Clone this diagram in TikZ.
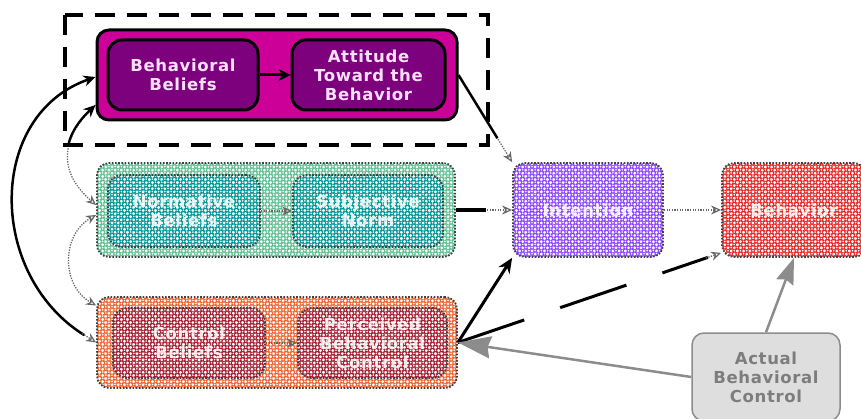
\documentclass[tikz,border=0pt]{standalone}
\usepackage{fontspec}
\newfontfamily\dfont[LetterSpace=4]{DejaVu Sans}
\usetikzlibrary{arrows.meta,patterns.meta}
\definecolor{magOut}{RGB}{204,0,153}
\definecolor{magIn}{RGB}{125,0,125}
\definecolor{pinkTxt}{RGB}{255,225,255}
\definecolor{grnOut}{RGB}{95,190,145}
\definecolor{grnIn}{RGB}{0,150,150}
\definecolor{orgOut}{RGB}{240,100,50}
\definecolor{orgIn}{RGB}{165,30,50}
\definecolor{intCol}{RGB}{140,70,255}
\definecolor{behCol}{RGB}{230,40,40}
\definecolor{abcFill}{RGB}{222,222,222}
\definecolor{abcLine}{RGB}{140,140,140}
\definecolor{abcTxt}{RGB}{125,125,125}
\begin{document}
\begin{tikzpicture}[x=1pt,y=-1pt,
  font=\dfont\bfseries\fontsize{16.5}{19}\selectfont,
  solidbox/.style={rounded corners=12pt, draw=black, line width=3pt, inner sep=0pt, align=center, text=pinkTxt},
  hbox/.style={rounded corners=12pt, draw=black!75, line width=1.8pt, dash pattern=on 1.6pt off 1.6pt,
    preaction={fill=white}, pattern={Hatch[angle=45,distance=4.4pt,line width=1.9pt]},
    pattern color=#1, text=white, text opacity=0.85, inner sep=0pt, align=center},
  blk/.style={draw=black, line width=3pt},
  htch/.style={draw=black!60, line width=1.3pt, dash pattern=on 1.3pt off 1.3pt},
  htipend/.style={-{Stealth[open,length=10pt,width=9pt,line width=1.2pt]}},
  gry/.style={draw=abcLine, line width=2.5pt}
]
\useasboundingbox (0,0) rectangle (861,419);

% boxes
\node[solidbox, fill=magOut, minimum width=360pt, minimum height=90pt] (mag) at (277,75) {};
\node[solidbox, fill=magIn, minimum width=150pt, minimum height=70pt, rounded corners=14pt] (bb) at (183,75) {Behavioral\\Beliefs};
\node[solidbox, fill=magIn, minimum width=153pt, minimum height=70pt, rounded corners=14pt] (att) at (368.5,75) {Attitude\\Toward the\\Behavior};

\node[hbox=grnOut, minimum width=358pt, minimum height=94pt] (grn) at (276,210) {};
\node[hbox=grnIn, minimum width=152pt, minimum height=72pt, rounded corners=14pt] (ns) at (184,211) {Normative\\Beliefs};
\node[hbox=grnIn, minimum width=150pt, minimum height=72pt, rounded corners=14pt] (sn) at (368,211) {Subjective\\Norm};

\node[hbox=orgOut, minimum width=360pt, minimum height=91pt] (org) at (277,342.5) {};
\node[hbox=orgIn, minimum width=152pt, minimum height=70pt, rounded corners=14pt] (cb) at (189,343) {Control\\Beliefs};
\node[hbox=orgIn, minimum width=149pt, minimum height=70pt, rounded corners=14pt] (pbc) at (372.5,343) {Perceived\\Behavioral\\Control};

\node[hbox=intCol, minimum width=150pt, minimum height=94pt] (int) at (588,210) {Intention};
\node[hbox=behCol, minimum width=144pt, minimum height=94pt] (beh) at (794,210) {Behavior};

\node[rounded corners=12pt, draw=abcLine, line width=1.5pt, fill=abcFill, text=abcTxt, align=center,
  minimum width=148pt, minimum height=88pt, inner sep=0pt] (abc) at (766,377) {Actual\\Behavioral\\Control};

% inner connectors
\draw[blk, -{Stealth[length=12pt,width=12pt]}] (bb) -- (att);
\draw[htch, htipend] (ns) -- (sn);
\draw[htch, htipend] (cb) -- (pbc);
\draw[htch, htipend] (int) -- (beh);

% attitude -> intention
\draw[htch, htipend] (mag.east) -- (int.north west);
\draw[blk, line width=2.5pt, shorten >=28pt] (mag.east) -- (int.north west);
% subjective norm -> intention
\draw[htch, htipend] (grn.east) -- (int.west);
\draw[blk, line width=3.5pt, shorten >=26pt] (grn.east) -- (int.west);
% pbc -> intention
\draw[blk, -{Stealth[length=15pt,width=13pt]}] (org.east) -- (int.south west);
% pbc -> behavior (dashed)
\draw[blk, dash pattern=on 70pt off 38pt, shorten >=14pt] (org.east) -- ([yshift=5pt]beh.south west);
\draw[htch, htipend, shorten <=262pt] (org.east) -- ([yshift=5pt]beh.south west);
% actual behavioral control
\draw[gry, -{Stealth[length=33pt,width=22pt,inset=3pt]}] (abc.west) -- (org.east);
\draw[gry, -{Stealth[length=26pt,width=18pt,inset=3pt]}] (abc.north) -- (beh.south);

% left curves
\draw[htch, htipend] ([yshift=-30pt]mag.west) .. controls +(-37,35) and +(-37,-32) .. ([yshift=5pt]grn.west);
\begin{scope}
  \clip (0,0) rectangle (130,146);
  \draw[blk, line width=2.3pt, {Stealth[length=12pt,width=11pt]}-] ([yshift=-30pt]mag.west) .. controls +(-37,35) and +(-37,-32) .. ([yshift=5pt]grn.west);
\end{scope}
\draw[htch, {Stealth[open,length=10pt,width=9pt,line width=1.2pt]}-{Stealth[open,length=10pt,width=9pt,line width=1.2pt]}]
  ([yshift=-5pt]grn.west) .. controls +(-35,20) and +(-35,-20) .. ([yshift=37pt]org.west);
\draw[blk, line width=2.5pt, {Stealth[length=12pt,width=11pt]}-, shorten >=14pt] ([yshift=-2pt]mag.west) .. controls +(-109,38) and +(-109,-68) .. (org.west);
\draw[htch, htipend] ([xshift=-14pt,yshift=9pt]org.west) -- (org.west);

% focus frame
\draw[line width=4.5pt, dash pattern=on 20pt off 12pt] (65,15) rectangle (488,145);
\end{tikzpicture}
\end{document}
